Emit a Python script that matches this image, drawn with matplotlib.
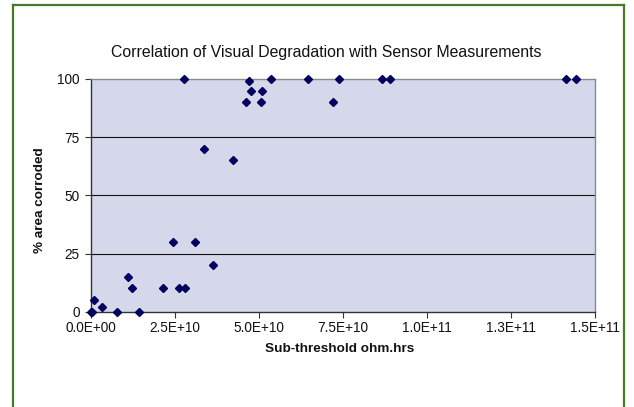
import matplotlib
matplotlib.use("Agg")
import matplotlib.pyplot as plt
from matplotlib.lines import Line2D

plt.rcParams['font.family'] = ['Liberation Sans', 'DejaVu Sans']

# Data
resistance = [0.0, 0.05e10, 0.107e10, 0.33e10, 0.79e10, 1.10e10, 1.24e10, 1.44e10,
              2.16e10, 2.45e10, 2.64e10, 2.79e10, 2.82e10, 3.09e10, 3.38e10, 3.65e10,
              4.24e10, 4.63e10, 4.70e10, 4.77e10, 5.08e10, 5.11e10, 5.38e10, 6.46e10,
              7.20e10, 7.40e10, 8.66e10, 8.92e10, 14.14e10, 14.44e10]
corroded = [0, 0, 5, 2, 0, 15, 10, 0,
            10, 30, 10, 100, 10, 30, 70, 20,
            65, 90, 99, 95, 90, 95, 100, 100,
            90, 100, 100, 100, 100, 100]
x_ticks = [0, 2.5e10, 5.0e10, 7.5e10, 1.0e11, 1.25e11, 1.5e11]
x_tick_labels = ["0.0E+00", "2.5E+10", "5.0E+10", "7.5E+10", "1.0E+11", "1.3E+11", "1.5E+11"]
y_ticks = [0, 25, 50, 75, 100]
title = "Correlation of Visual Degradation with Sensor Measurements"
xlabel = "Sub-threshold ohm.hrs"
ylabel = "% area corroded"

W, H = 634, 407
fig = plt.figure(figsize=(W / 100, H / 100), dpi=100)
fig.patch.set_facecolor('white')

# green frame (open at the bottom)
green = '#477a27'
for xs, ys in [([13 / W, 13 / W], [0, 1 - 5 / H]),
               ([623.5 / W, 623.5 / W], [0, 1 - 5 / H]),
               ([13 / W, 623.5 / W], [1 - 5 / H, 1 - 5 / H])]:
    fig.add_artist(Line2D(xs, ys, color=green, lw=1.6, transform=fig.transFigure))

left, right = 90.7 / W, 594.7 / W
top, bottom = 1 - 79 / H, 1 - 311.7 / H
ax = fig.add_axes([left, bottom, right - left, top - bottom])
ax.set_facecolor('#d5d7ea')

ax.plot(resistance, corroded, linestyle='none', marker='D', markersize=4.0,
        color='#000070', markeredgecolor='#000050', zorder=5, clip_on=False)

ax.set_xlim(0, 1.5e11)
ax.set_ylim(0, 100)
ax.set_xticks(x_ticks)
ax.set_xticklabels(x_tick_labels)
ax.set_yticks(y_ticks)
ax.set_yticklabels([str(v) for v in y_ticks])
ax.tick_params(axis='both', direction='out', length=4, width=0.8, color='#333333',
               labelsize=9.8, labelcolor='#111111')
ax.tick_params(axis='x', pad=2.5)
ax.tick_params(axis='y', pad=4)

for v in y_ticks[1:-1]:
    ax.axhline(v, color='#111111', lw=0.8, zorder=1)

ax.spines['left'].set_color('#333333')
ax.spines['bottom'].set_color('#333333')
ax.spines['top'].set_color('#8a8a8a')
ax.spines['right'].set_color('#8a8a8a')
for s in ax.spines.values():
    s.set_linewidth(1.0)

fig.text(326 / W, 1 - 52.5 / H, title, ha='center', va='center', fontsize=11.4,
         color='#111111')
fig.text(340 / W, 1 - 349 / H, xlabel, ha='center', va='center', fontsize=9.7,
         fontweight='bold', color='#111111')
fig.text(40 / W, 1 - 200 / H, ylabel, ha='center', va='center', rotation=90,
         fontsize=9.7, fontweight='bold', color='#111111')

fig.savefig('out.png', dpi=100)
